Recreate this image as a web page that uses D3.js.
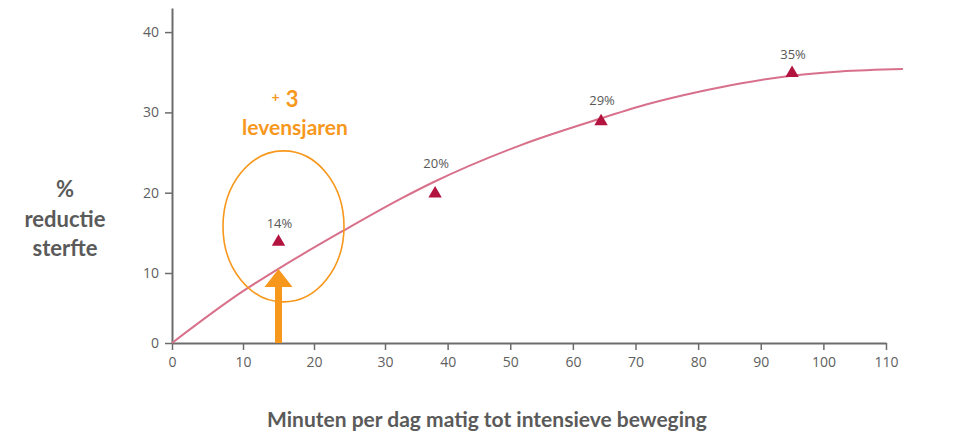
<!DOCTYPE html>
<html>
<head>
<meta charset="utf-8">
<script src="https://cdn.jsdelivr.net/npm/d3@7"></script>
<style>
  html, body { margin: 0; padding: 0; background: #ffffff; }
  svg { display: block; }
</style>
</head>
<body>
<svg id="chart" width="974" height="436"></svg>
<script>
// Minutes of moderate-to-vigorous activity per day and the matching mortality reduction
const curveMinutes   = [0, 10, 15.5, 24, 32.4, 37.7, 51.6, 64.3, 72.3, 80.3, 86.7, 95.2, 102.7, 112.7];
const curveReduction = [0, 7.4, 10.8, 15.2, 19.2, 21.3, 25.9, 29.2, 31.1, 32.6, 33.6, 34.6, 35.1, 35.4];

// Measured points (triangles) with their labels
const pointMinutes   = [15, 38, 64.5, 95];
const pointReduction = [14, 20, 29, 35];
const pointLabels    = ["14%", "20%", "29%", "35%"];

// Axis ticks
const xTicks = [0, 10, 20, 30, 40, 50, 60, 70, 80, 90, 100, 110];
const yTicks = [0, 10, 20, 30, 40];

// Annotation
const highlightMinutes = 15;
const gainLines = ["3", "levensjaren"];

const svg = d3.select("#chart");

// The printed axes are not evenly spaced: piecewise scales follow the drawn ticks
const x = d3.scaleLinear().domain([0, 30, 110]).range([172, 385, 886]);
const y = d3.scaleLinear().domain([0, 10, 43]).range([343, 273, 8]);

const axisColor = "#6c6c6c";
const textGray = "#5a5a5a";
const orange = "#f7981d";

// Axes
const gx = svg.append("g")
  .attr("transform", `translate(0,${y(0)})`)
  .call(d3.axisBottom(x).tickValues(xTicks).tickSize(7).tickSizeOuter(0).tickPadding(7));
const gy = svg.append("g")
  .attr("transform", `translate(${x(0)},0)`)
  .call(d3.axisLeft(y).tickValues(yTicks).tickSize(7).tickSizeOuter(0).tickPadding(6));

[gx, gy].forEach(g => {
  g.select(".domain").attr("stroke", axisColor).attr("stroke-width", 2);
  g.selectAll(".tick line").attr("stroke", axisColor).attr("stroke-width", 1.5);
  g.selectAll(".tick text")
    .attr("fill", "#606060")
    .style("font-family", "'Open Sans', sans-serif")
    .style("font-size", "14px");
});

// Reduction curve
const curveData = curveMinutes.map((m, i) => ({ m, r: curveReduction[i] }));
svg.append("path")
  .datum(curveData)
  .attr("fill", "none")
  .attr("stroke", "#d8708b")
  .attr("stroke-width", 2)
  .attr("d", d3.line().x(d => x(d.m)).y(d => y(d.r)).curve(d3.curveMonotoneX));

// Linear lookup of the curve at a given number of minutes
function curveAt(m) {
  const i = Math.max(1, Math.min(curveMinutes.length - 1, d3.bisectLeft(curveMinutes, m)));
  const t = (m - curveMinutes[i - 1]) / (curveMinutes[i] - curveMinutes[i - 1]);
  return curveReduction[i - 1] + t * (curveReduction[i] - curveReduction[i - 1]);
}

// Ellipse around the first measured point
svg.append("ellipse")
  .attr("cx", x(pointMinutes[0]) + 5)
  .attr("cy", y(15.8))
  .attr("rx", 60.5)
  .attr("ry", 75.5)
  .attr("fill", "none")
  .attr("stroke", orange)
  .attr("stroke-width", 1.6);

// Upward arrow from the axis to the curve
{
  const ax = x(highlightMinutes);
  const tip = y(curveAt(highlightMinutes));
  const base = y(0);
  const headH = 18, headW = 14, shaftW = 3.5;
  const p = d3.path();
  p.moveTo(ax - shaftW, base);
  p.lineTo(ax - shaftW, tip + headH);
  p.lineTo(ax - headW, tip + headH);
  p.lineTo(ax, tip);
  p.lineTo(ax + headW, tip + headH);
  p.lineTo(ax + shaftW, tip + headH);
  p.lineTo(ax + shaftW, base);
  p.closePath();
  svg.append("path").attr("d", p.toString()).attr("fill", orange);
}

// Triangles and their labels
const points = pointMinutes.map((m, i) => ({ m, r: pointReduction[i], label: pointLabels[i] }));
svg.append("g").selectAll("path")
  .data(points)
  .join("path")
  .attr("transform", d => `translate(${x(d.m)},${y(d.r) + 1})`)
  .attr("d", d3.symbol(d3.symbolTriangle, 78))
  .attr("fill", "#b3143f");

svg.append("g").selectAll("text")
  .data(points)
  .join("text")
  .attr("x", d => x(d.m) + 1)
  .attr("y", d => Math.min(y(d.r), y(curveAt(d.m))) - 13)
  .attr("text-anchor", "middle")
  .attr("fill", "#585858")
  .style("font-family", "'Open Sans', sans-serif")
  .style("font-size", "13px")
  .text(d => d.label);

// Orange annotation text
const note = svg.append("text")
  .attr("text-anchor", "middle")
  .attr("fill", orange)
  .style("font-family", "Lato, sans-serif")
  .style("font-weight", "bold");
note.append("tspan")
  .attr("x", 285).attr("y", 107)
  .style("font-size", "14px")
  .attr("dy", -5)
  .text("+");
note.append("tspan")
  .attr("dx", 6).attr("dy", 5)
  .style("font-size", "22px")
  .text(gainLines[0]);
svg.append("text")
  .attr("x", 295).attr("y", 135)
  .attr("text-anchor", "middle")
  .attr("fill", orange)
  .style("font-family", "Lato, sans-serif")
  .style("font-weight", "bold")
  .style("font-size", "21px")
  .text(gainLines[1]);

// Axis titles
const yTitle = svg.append("text")
  .attr("text-anchor", "middle")
  .attr("fill", textGray)
  .style("font-family", "Lato, sans-serif")
  .style("font-weight", "bold")
  .style("font-size", "22px");
[["%", 197], ["reductie", 227], ["sterfte", 256]].forEach(([t, by]) => {
  yTitle.append("tspan").attr("x", 65).attr("y", by).text(t);
});

svg.append("text")
  .attr("x", 487).attr("y", 427)
  .attr("text-anchor", "middle")
  .attr("fill", textGray)
  .style("font-family", "Lato, sans-serif")
  .style("font-weight", "bold")
  .style("font-size", "21px")
  .text("Minuten per dag matig tot intensieve beweging");
</script>
</body>
</html>
